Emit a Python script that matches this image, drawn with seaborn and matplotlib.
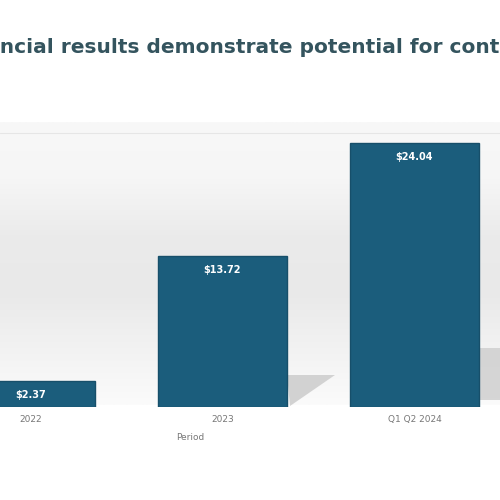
import numpy as np
import pandas as pd
import matplotlib
matplotlib.use("Agg")
import matplotlib.pyplot as plt
import seaborn as sns
from matplotlib.colors import LinearSegmentedColormap
from matplotlib.patches import Polygon, Rectangle

periods = ["2022", "2023", "Q1 Q2 2024"]
values = [2.37, 13.72, 24.04]
title = "Financial results demonstrate potential for continued growth"
xlabel = "Period"

sns.set_theme(style="white")
plt.rcParams['font.family'] = ['DejaVu Sans']

df = pd.DataFrame({"Period": periods, "Value": values})

fig = plt.figure(figsize=(5, 5), dpi=100)
fig.patch.set_facecolor("white")

# gradient backdrop
bg = fig.add_axes([0, 0.19, 1, 0.566], zorder=0)
cmap = LinearSegmentedColormap.from_list("bg", ["#f8f8f8", "#f6f6f6", "#ebebeb", "#e9e9e9", "#f2f2f2", "#fbfbfb"])
grad = np.linspace(0, 1, 256).reshape(-1, 1)
bg.imshow(grad, aspect="auto", cmap=cmap, extent=[0, 1, 0, 1])
bg.axhline(0.96, color="#e6e6e6", lw=0.8)
bg.axis("off")

# decorative shadows
fig.patches.append(Polygon([[0.574, 0.25], [0.67, 0.25], [0.58, 0.188]], closed=True,
                           transform=fig.transFigure, facecolor="#c9c9c9", edgecolor="none",
                           alpha=0.8, zorder=0.5))
fig.patches.append(Rectangle((0.957, 0.2), 0.05, 0.105, transform=fig.transFigure,
                             facecolor="#cdcdcd", edgecolor="none", alpha=0.8, zorder=0.5))

ax = fig.add_axes([-0.131, 0.186, 1.152, 0.57], zorder=1)
ax.patch.set_alpha(0)
sns.barplot(data=df, x="Period", y="Value", color="#1b5d7c", width=0.67,
            saturation=1, ax=ax, edgecolor="#174f6a", linewidth=1)
ax.set_ylim(0, 25.95)
ax.set_xlim(-0.5, 2.5)
ax.set_yticks([])
ax.set_ylabel("")
ax.set_xlabel(xlabel, fontsize=6.5, color="#777777")
ax.xaxis.set_label_coords(0.444, -0.09)
ax.tick_params(axis="x", labelsize=6.5, labelcolor="#777777", length=0, pad=6)
for s in ax.spines.values():
    s.set_visible(False)

for i, v in enumerate(values):
    ax.text(i, v - 1.25, f"${v:.2f}", ha="center", va="center", color="white",
            fontsize=7, fontweight="bold")

fig.text(-0.098, 0.905, title, ha="left", va="center", fontsize=14.5,
         fontweight="bold", color="#34545e")

fig.savefig("out.png", dpi=100)
